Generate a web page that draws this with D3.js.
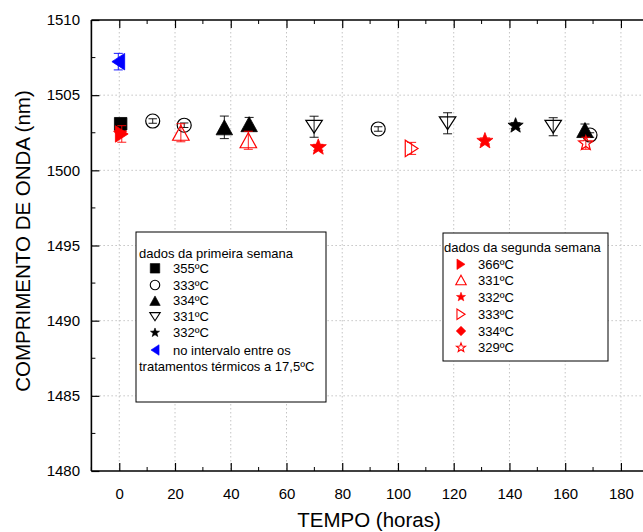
<!DOCTYPE html>
<html>
<head>
<meta charset="utf-8">
<script src="https://cdn.jsdelivr.net/npm/d3@7"></script>
<style>
html,body{margin:0;padding:0;background:#fff;}
svg{display:block;font-family:"Liberation Sans",Arial,sans-serif;}
</style>
</head>
<body>
<svg id="chart" width="643" height="532"></svg>
<script>
// ---- data ----
const xTicks = [0, 20, 40, 60, 80, 100, 120, 140, 160, 180];
const yTicks = [1480, 1485, 1490, 1495, 1500, 1505, 1510];

// first week (black / blue)
const s355X = [0.5],                      s355Y = [1503.1],                       s355E = [0.15];
const s333aX = [12.0, 23.3, 92.9, 168.9], s333aY = [1503.28, 1503.0, 1502.75, 1502.35], s333aE = [0.15, 0.15, 0.15, 0.15];
const s334aX = [37.7, 46.6, 167.1],       s334aY = [1502.86, 1503.07, 1502.68],   s334aE = [0.75, 0.45, 0.4];
const s331aX = [69.9, 117.8, 155.7],      s331aY = [1502.9, 1503.13, 1502.9],     s331aE = [0.7, 0.7, 0.6];
const s332aX = [142.2],                   s332aY = [1502.97],                     s332aE = [0.2];
const s175X = [-0.35],                    s175Y = [1507.23],                      s175E = [0.55];

// second week (red)
const s366X = [0.9],                      s366Y = [1502.42],                      s366E = [0.55];
const s331bX = [22.1, 46.3],              s331bY = [1502.5, 1502.0],              s331bE = [0.6, 0.6];
const s332bX = [71.4, 131.2],             s332bY = [1501.53, 1501.95],            s332bE = [0.2, 0.2];
const s333bX = [104.9],                   s333bY = [1501.46],                     s333bE = [0.4];
const s334bX = [0.3],                     s334bY = [1502.6],                      s334bE = [0.2];
const s329bX = [167.4],                   s329bY = [1501.8],                      s329bE = [0.4];

const legend1Labels = ["355ºC", "333ºC", "334ºC", "331ºC", "332ºC", "no intervalo entre os"];
const legend1Extra = "tratamentos térmicos a 17,5ºC";
const legend1Title = "dados da primeira semana";
const legend2Labels = ["366ºC", "331ºC", "332ºC", "333ºC", "334ºC", "329ºC"];
const legend2Title = "dados da segunda semana";

// ---- layout ----
const svg = d3.select("#chart");
const leftX = 91.4, topY = 20, bottomY = 471;
const x = d3.scaleLinear().domain([-10, 190]).range([leftX, leftX + 200 * 2.787]);
const y = d3.scaleLinear().domain([1480, 1510]).range([bottomY, topY]);

// marker paths
function shapePath(shape, s) {
  const h = s / 2;
  switch (shape) {
    case "square": return `M${-h},${-h}H${h}V${h}H${-h}Z`;
    case "circle": return d3.arc()({innerRadius:0, outerRadius:h, startAngle:0, endAngle:2*Math.PI});
    case "up": return `M0,${-h}L${h*1.1},${h}L${-h*1.1},${h}Z`;
    case "down": return `M0,${h*0.85}L${h*1.1},${-h*0.85}L${-h*1.1},${-h*0.85}Z`;
    case "left": return `M${-h*0.85},0L${h*0.85},${-h*1.1}L${h*0.85},${h*1.1}Z`;
    case "right": return `M${h*0.85},0L${-h*0.85},${-h*1.1}L${-h*0.85},${h*1.1}Z`;
    case "diamond": return `M0,${-h}L${h},0L0,${h}L${-h},0Z`;
    case "star": {
      const pts = [];
      for (let i = 0; i < 10; i++) {
        const r = i % 2 === 0 ? h : h * 0.42;
        const a = -Math.PI / 2 + i * Math.PI / 5;
        pts.push([r * Math.cos(a), r * Math.sin(a)]);
      }
      return "M" + pts.map(p => p[0].toFixed(2) + "," + p[1].toFixed(2)).join("L") + "Z";
    }
  }
}

// grid
const grid = svg.append("g");
grid.selectAll("line.gx").data(xTicks).join("line")
  .attr("x1", d => x(d)).attr("x2", d => x(d)).attr("y1", topY).attr("y2", bottomY)
  .attr("stroke", "#c4c4c4").attr("stroke-width", 1).attr("stroke-dasharray", "1.5,2.5");
grid.selectAll("line.gy").data(yTicks.filter(v => v > 1480 && v < 1510)).join("line")
  .attr("x1", leftX).attr("x2", 643).attr("y1", d => y(d)).attr("y2", d => y(d))
  .attr("stroke", "#c4c4c4").attr("stroke-width", 1).attr("stroke-dasharray", "1.5,2.5");

// axes
const xMinor = d3.range(-10, 191, 10).filter(v => v % 20 !== 0);
const yMinor = d3.range(1482.5, 1510, 5);
const axG = svg.append("g");
// bottom
const xb = d3.axisBottom(x).tickValues(xTicks).tickSize(-8).tickPadding(17.5).tickFormat(d3.format("d"));
const gb = axG.append("g").attr("transform", `translate(0,${bottomY})`).call(xb);
gb.append("g").selectAll("line").data(xMinor).join("line")
  .attr("x1", d => x(d)).attr("x2", d => x(d)).attr("y1", 0).attr("y2", -4).attr("stroke", "#000");
// top
const xt = d3.axisTop(x).tickValues(xTicks).tickSize(-8).tickFormat("");
const gt = axG.append("g").attr("transform", `translate(0,${topY})`).call(xt);
gt.append("g").selectAll("line").data(xMinor).join("line")
  .attr("x1", d => x(d)).attr("x2", d => x(d)).attr("y1", 0).attr("y2", 4).attr("stroke", "#000");
// left
const yl = d3.axisLeft(y).tickValues(yTicks).tickSize(-8).tickPadding(11.4).tickFormat(d3.format("d"));
const gl = axG.append("g").attr("transform", `translate(${leftX},0)`).call(yl);
gl.append("g").selectAll("line").data(yMinor).join("line")
  .attr("x1", 0).attr("x2", 4).attr("y1", d => y(d)).attr("y2", d => y(d)).attr("stroke", "#000");
[gb, gt, gl].forEach(g => {
  g.select(".domain").remove();
  g.attr("font-size", 15).attr("font-family", "Liberation Sans, Arial, sans-serif");
  g.selectAll(".tick line").attr("stroke", "#000").attr("stroke-width", 1.2);
  g.selectAll("text").attr("fill", "#000");
});
axG.append("line").attr("x1", leftX).attr("x2", 643).attr("y1", bottomY).attr("y2", bottomY).attr("stroke", "#000").attr("stroke-width", 1.6);
axG.append("line").attr("x1", leftX).attr("x2", 643).attr("y1", topY).attr("y2", topY).attr("stroke", "#000").attr("stroke-width", 1.6);
axG.append("line").attr("x1", leftX).attr("x2", leftX).attr("y1", topY).attr("y2", bottomY).attr("stroke", "#000").attr("stroke-width", 1.6);

// axis titles
svg.append("text").attr("x", 369).attr("y", 527).attr("text-anchor", "middle")
  .attr("font-size", 20.5).attr("fill", "#000").text("TEMPO (horas)");
svg.append("text").attr("transform", "translate(29.5,241) rotate(-90)").attr("text-anchor", "middle")
  .attr("font-size", 20.5).attr("fill", "#000").text("COMPRIMENTO DE ONDA (nm)");

// series drawing
function drawSeries(xs, ys, es, shape, size, color, filled) {
  const data = xs.map((v, i) => ({x: v, y: ys[i], e: es[i]}));
  const g = svg.append("g");
  const cap = size * 0.3;
  g.selectAll("path.eb").data(data).join("path")
    .attr("d", d => {
      const cx = x(d.x), y1 = y(d.y + d.e), y2 = y(d.y - d.e);
      return `M${cx},${y1}V${y2}M${cx - cap},${y1}H${cx + cap}M${cx - cap},${y2}H${cx + cap}`;
    })
    .attr("stroke", color).attr("stroke-width", 0.9).attr("fill", "none");
  g.selectAll("path.mk").data(data).join("path")
    .attr("transform", d => `translate(${x(d.x)},${y(d.y)})`)
    .attr("d", shapePath(shape, size))
    .attr("fill", filled ? color : "none")
    .attr("stroke", color).attr("stroke-width", filled ? 0.8 : 1.2);
}
const RED = "#ff0000", BLUE = "#0000ff", BLK = "#000000";
drawSeries(s334bX, s334bY, s334bE, "diamond", 13, RED, true);
drawSeries(s355X, s355Y, s355E, "square", 12.5, BLK, true);
drawSeries(s333aX, s333aY, s333aE, "circle", 14, BLK, false);
drawSeries(s334aX, s334aY, s334aE, "up", 15, BLK, true);
drawSeries(s331aX, s331aY, s331aE, "down", 15, BLK, false);
drawSeries(s332aX, s332aY, s332aE, "star", 16, BLK, true);
drawSeries(s175X, s175Y, s175E, "left", 15, BLUE, true);
drawSeries(s366X, s366Y, s366E, "right", 15, RED, true);
drawSeries(s331bX, s331bY, s331bE, "up", 15, RED, false);
drawSeries(s332bX, s332bY, s332bE, "star", 17, RED, true);
drawSeries(s333bX, s333bY, s333bE, "right", 15, RED, false);
drawSeries(s329bX, s329bY, s329bE, "star", 15, RED, false);

// legends
function legendBox(bx, by, bw, bh, title, titleY, labels, rowYs, shapes, colors, filled, mx, tx, textX) {
  const g = svg.append("g").attr("font-size", 13);
  g.append("rect").attr("x", bx).attr("y", by).attr("width", bw).attr("height", bh)
    .attr("fill", "#fff").attr("stroke", "#000").attr("stroke-width", 1);
  g.append("text").attr("x", textX).attr("y", titleY + 4.6).attr("fill", "#000").text(title);
  labels.forEach((lab, i) => {
    g.append("path").attr("transform", `translate(${mx},${rowYs[i]})`)
      .attr("d", shapePath(shapes[i], 9.5))
      .attr("fill", filled[i] ? colors[i] : "none").attr("stroke", colors[i]).attr("stroke-width", filled[i] ? 0.6 : 1.1);
    g.append("text").attr("x", tx).attr("y", rowYs[i] + 4.6).attr("fill", "#000").text(lab);
  });
  return g;
}
const lg1 = legendBox(136, 232, 190, 170, legend1Title, 253.3, legend1Labels,
  [268.3, 285, 300.7, 316.7, 332.7, 350],
  ["square", "circle", "up", "down", "star", "left"],
  [BLK, BLK, BLK, BLK, BLK, BLUE],
  [true, false, true, false, true, true], 155, 173, 139);
lg1.append("text").attr("x", 139).attr("y", 366 + 4.6).attr("fill", "#000").text(legend1Extra);
legendBox(443, 233, 165, 128, legend2Title, 247.7, legend2Labels,
  [264.3, 280, 297, 314.3, 331, 347.7],
  ["right", "up", "star", "right", "diamond", "star"],
  [RED, RED, RED, RED, RED, RED],
  [true, false, true, false, true, false], 461, 478, 444);
</script>
</body>
</html>
